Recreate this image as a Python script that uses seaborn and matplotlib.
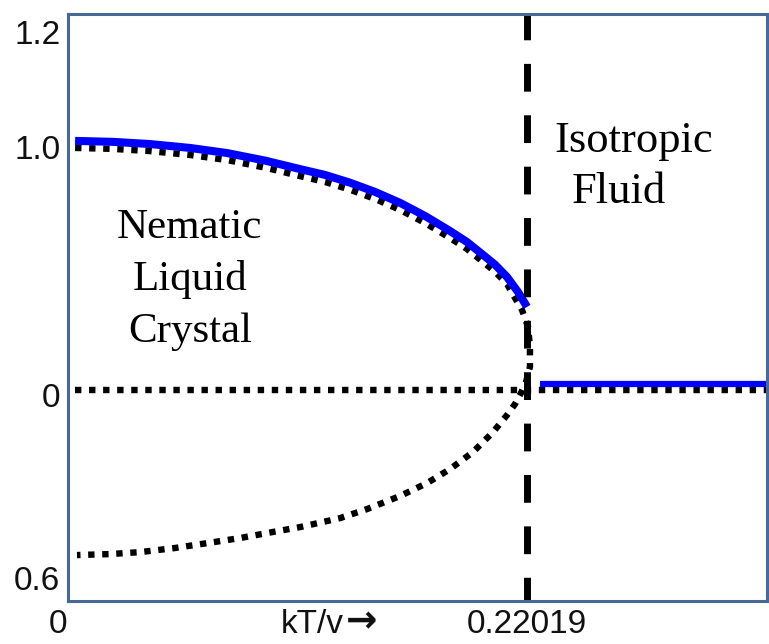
import matplotlib
matplotlib.use("Agg")
import matplotlib.pyplot as plt
import seaborn as sns
import pandas as pd

# ---- data ----
# x in kT/v, y = order parameter (plot scale)
exp_x = [0.0034, 0.0216, 0.0393, 0.0585, 0.0763, 0.0945, 0.1113, 0.1233, 0.1353, 0.1473,
         0.1593, 0.1713, 0.1833, 0.1914, 0.1991, 0.2048, 0.2106, 0.2159, 0.2202]
exp_y = [1.025, 1.021, 1.012, 0.996, 0.975, 0.944, 0.909, 0.885, 0.853, 0.815,
         0.770, 0.716, 0.654, 0.609, 0.556, 0.516, 0.465, 0.403, 0.342]

theory_x = [0.0034, 0.0216, 0.0393, 0.0585, 0.0763, 0.0945, 0.1113, 0.1233, 0.1353, 0.1473,
            0.1593, 0.1713, 0.1833, 0.1914, 0.1991, 0.2048, 0.2106, 0.2144, 0.2178, 0.2207,
            0.2216, 0.2216, 0.2197, 0.2173, 0.2144, 0.2106, 0.2039, 0.1943, 0.1833, 0.1722,
            0.1593, 0.1434, 0.1305, 0.1113, 0.0983, 0.0825, 0.0667, 0.0513, 0.0345, 0.0201,
            0.0043]
theory_y = [0.996, 0.992, 0.983, 0.967, 0.946, 0.915, 0.880, 0.856, 0.824, 0.786,
            0.741, 0.687, 0.625, 0.580, 0.527, 0.487, 0.436, 0.379, 0.329, 0.259,
            0.177, 0.095, 0.033, -0.012, -0.058, -0.103, -0.173, -0.255, -0.325, -0.383,
            -0.436, -0.490, -0.527, -0.564, -0.584, -0.609, -0.630, -0.650, -0.667, -0.675,
            -0.679]

iso_exp_x = [0.2264, 0.3353]
iso_exp_y = [0.026, 0.026]
zero_x = [0.0034, 0.3353]
zero_y = [0.0, 0.0]

t_transition = 0.22019

ytick_pos = [1.475, 1.001, -0.02, -0.774]
ytick_labels = ["1.2", "1.0", "0", "0.6"]
xlabel_pos = [-0.0048, 0.1325, 0.22019]
xlabel_texts = ["0", "kT/v", "0.22019"]
arrow_text = "\u2192"

# ---- style ----
sns.set_theme(style="white")
plt.rcParams["font.family"] = ["Liberation Sans", "DejaVu Sans"]
frame_color = "#4a6896"

fig = plt.figure(figsize=(7.69, 6.44), dpi=100)
ax = fig.add_axes([68 / 769, 43 / 644, 699 / 769, 587 / 644])

dot_style = dict(color="black", linewidth=4.6, linestyle=(0, (1, 1.2)),
                 dash_capstyle="butt")

df_zero = pd.DataFrame({"x": zero_x, "y": zero_y})
sns.lineplot(data=df_zero, x="x", y="y", ax=ax, sort=False, estimator=None, **dot_style)

df_th = pd.DataFrame({"x": theory_x, "y": theory_y})
sns.lineplot(data=df_th, x="x", y="y", ax=ax, sort=False, estimator=None, **dot_style)

df_exp = pd.DataFrame({"x": exp_x, "y": exp_y})
sns.lineplot(data=df_exp, x="x", y="y", ax=ax, sort=False, estimator=None,
             color="#0000ff", linewidth=5.8, solid_capstyle="butt",
             solid_joinstyle="round")

df_iso = pd.DataFrame({"x": iso_exp_x, "y": iso_exp_y})
sns.lineplot(data=df_iso, x="x", y="y", ax=ax, sort=False, estimator=None,
             color="#0000ff", linewidth=4.5, solid_capstyle="butt")

ax.axvline(t_transition, ymin=1.004, ymax=0, color="black", linewidth=5.0,
           linestyle=(0, (4.0, 3.4)), dash_capstyle="butt")

ax.set_xlim(0, 0.3353)
ax.set_ylim(-0.868, 1.547)
ax.set_xlabel("")
ax.set_ylabel("")
ax.set_xticks([])
ax.set_yticks(ytick_pos, ytick_labels)
ax.tick_params(axis="y", length=0, pad=5.5, labelsize=24, labelcolor="#111111")

for s in ax.spines.values():
    s.set_visible(True)
    s.set_color(frame_color)
    s.set_linewidth(2.2)

for xp, txt in zip(xlabel_pos, xlabel_texts):
    ha = "right" if txt == "kT/v" else "center"
    ax.text(xp, -0.963, txt, ha=ha, va="center", fontsize=24,
            color="#111111", clip_on=False)
ax.text(xlabel_pos[1] + 0.0008, -0.955, arrow_text, ha="left", va="center",
        fontsize=27, family=["DejaVu Sans"], fontweight="bold",
        color="#111111", clip_on=False)

serif = ["Liberation Serif", "DejaVu Serif"]
for txt, yb in zip(["Nematic", "Liquid", "Crystal"], [0.6255, 0.4115, 0.1975]):
    ax.text(0.0585, yb, txt, ha="center", va="baseline", fontsize=31,
            family=serif, color="black")
ax.text(0.2715, 0.979, "Isotropic", ha="center", va="baseline", fontsize=32,
        family=serif, color="black")
ax.text(0.2643, 0.7695, "Fluid", ha="center", va="baseline", fontsize=32,
        family=serif, color="black")

fig.savefig("out.png", dpi=100, facecolor="white")
